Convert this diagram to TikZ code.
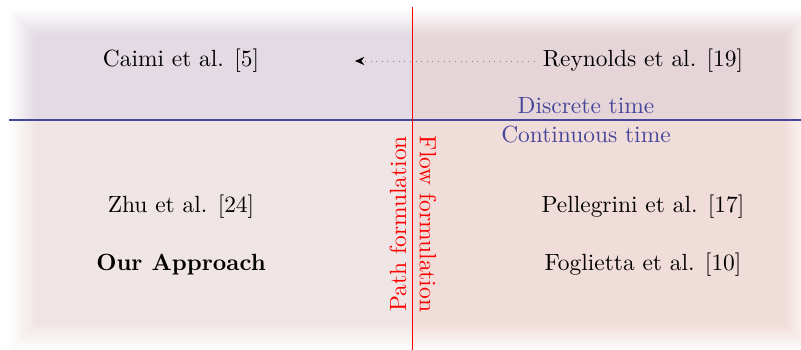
\documentclass[tikz,border=0pt]{standalone}
\usepackage{xcolor}
\usepackage{tikz}
\usetikzlibrary{arrows.meta,positioning}

\definecolor{tlfill}{RGB}{227,218,227}
\definecolor{trfill}{RGB}{230,213,216}
\definecolor{blfill}{RGB}{240,229,229}
\definecolor{brfill}{RGB}{240,220,216}
\definecolor{timeblue}{RGB}{70,70,155}

\tikzset{
  work/.style={font=\normalsize, text=black},
  timelab/.style={font=\normalsize, text=timeblue},
  formlab/.style={font=\normalsize, text=red}
}

\begin{document}
\begin{tikzpicture}[x=0.15mm, y=0.15mm]
  \useasboundingbox (0,0) rectangle (801,350);

  % Quadrants, each with a soft outer edge
  \foreach \qcol/\xa/\ya/\xb/\yb in {tlfill/8/230/412.5/342,
      trfill/412.5/230/812/342, blfill/8/-2/412.5/230,
      brfill/412.5/-2/812/230} {
    \begin{scope}
      \clip (\xa,\ya) rectangle (\xb,\yb);
      \foreach \k in {0,...,14} {
        \pgfmathtruncatemacro{\pct}{min(100,100*(\k+0.5)/14)}
        \pgfmathtruncatemacro{\inset}{2*\k}
        \colorlet{ringcol}{\qcol!\pct!white}
        \fill[ringcol] (8+\inset,-2+\inset) rectangle (812-\inset,342-\inset);
      }
    \end{scope}
  }

  % Time axis divider
  \draw[timeblue, line width=0.8pt] (9,230) -- (801,230);
  \node[timelab] (discrete) at (586,244) {Discrete time};
  \node[timelab] (continuous) at (586,215) {Continuous time};

  % Formulation divider
  \draw[red, line width=0.85pt] (412.5,343) -- (412.5,0);
  \node[formlab, rotate=90] (pathlab) at (398,126) {Path formulation};
  \node[formlab, rotate=-90] (flowlab) at (428,126) {Flow formulation};

  % Works
  \node[work] (caimi) at (181,289) {Caimi et al. [5]};
  \node[work] (reynolds) at (643,289) {Reynolds et al. [19]};
  \node[work] (zhu) at (181,143) {Zhu et al. [24]};
  \node[work, font=\bfseries] (ours) at (181,85) {Our Approach};
  \node[work] (pellegrini) at (643,143) {Pellegrini et al. [17]};
  \node[work] (foglietta) at (643,85) {Foglietta et al. [10]};

  % Extension arrow
  \coordinate (arrowend) at (355,289);
  \draw[gray, dotted, -{Stealth[length=4pt, width=3.5pt, black]}]
    (reynolds.west) -- (arrowend);
\end{tikzpicture}
\end{document}
